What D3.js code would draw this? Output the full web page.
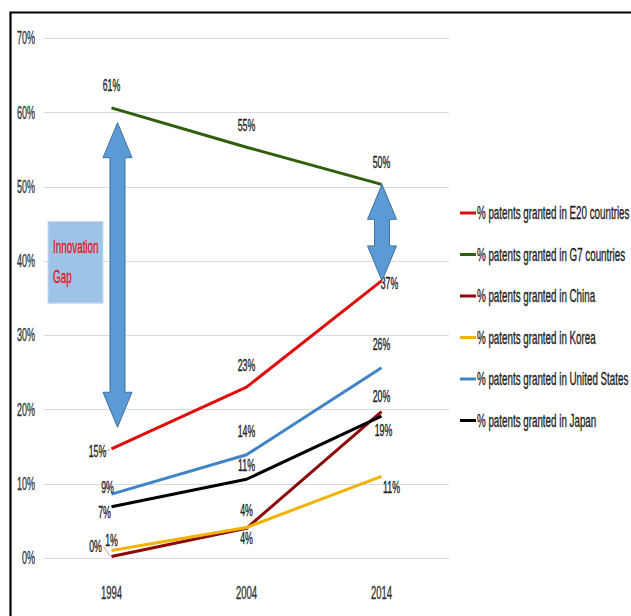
<!DOCTYPE html>
<html><head><meta charset="utf-8">
<script src="https://cdn.jsdelivr.net/npm/d3@7"></script>
<style>body{margin:0;background:#fff;overflow:hidden}</style>
</head><body>
<svg id="c" width="631" height="616"></svg>
<script>
// ---- data ----
const years = ["1994", "2004", "2014"];
const seriesNames = [
  "% patents granted in E20 countries",
  "% patents granted in G7 countries",
  "% patents granted in China",
  "% patents granted in Korea",
  "% patents granted in United States",
  "% patents granted in Japan"
];
const e20 = [14.7, 23.0, 37.3];
const g7 = [60.6, 55.3, 50.3];
const china = [0.2, 4.0, 19.7];
const korea = [1.0, 4.1, 11.0];
const us = [8.6, 13.9, 25.6];
const japan = [6.9, 10.6, 19.1];
const yTicks = [0, 10, 20, 30, 40, 50, 60, 70];
const gapArrows = [
  { year: "1994", top: 58.6, bottom: 17.6 },
  { year: "2014", top: 50.3, bottom: 37.3 }
];
const gapBox = { top: 45.3, bottom: 34.3, lines: ["Innovation", "Gap"] };

// ---- styling / layout ----
const colors = ["#e00b0b", "#2f5f0a", "#8b0a0a", "#f2b200", "#3f84c6", "#000000"];
const values = [e20, g7, china, korea, us, japan];
// label offsets in px (dx, dy) from the point, per series per year
const labelOffsets = [
  [[-14, 3], [0, -22], [8, 3]],
  [[0, -22], [0, -22], [0, -22]],
  [[-16, -10], [0, 10], [0, -15]],
  [[0, -10], [0, -17], [10, 11]],
  [[-4, -7], [0, -23], [0, -23]],
  [[-7, 6], [0, -14], [2, 14]]
];
const leaders = { "0-0": true, "2-0": true };

const FONT = "'Liberation Sans',Arial,sans-serif";
const svg = d3.select("#c");
const W = 631, H = 616;
const plot = { left: 44, right: 449, top: 38, bottom: 558 };

const x = d3.scaleBand().domain(years).range([plot.left, plot.right]);
const xc = d => x(d) + x.bandwidth() / 2;
const y = d3.scaleLinear().domain([0, 70]).range([plot.bottom, plot.top]);

function txt(g, s, px, py, size, sx, color, anchor) {
  return g.append("text")
    .attr("transform", `translate(${px},${py}) scale(${sx},1)`)
    .attr("text-anchor", anchor || "middle")
    .attr("dominant-baseline", "central")
    .style("font-family", FONT)
    .style("font-size", size + "px")
    .attr("fill", color || "#262626")
    .attr("stroke", color || "#262626")
    .attr("stroke-width", 0.35)
    .text(s);
}

// border
svg.append("rect").attr("x", 0).attr("y", 0).attr("width", W).attr("height", H).attr("fill", "#fff");
svg.append("path").attr("d", `M10.5,${H} V12.5 H${W}`).attr("fill", "none")
  .attr("stroke", "#000").attr("stroke-width", 2.2);

// gridlines
svg.append("g").selectAll("line").data(yTicks).join("line")
  .attr("x1", plot.left).attr("x2", plot.right)
  .attr("y1", d => Math.round(y(d)) + 0.5).attr("y2", d => Math.round(y(d)) + 0.5)
  .attr("stroke", "#d9d9d9").attr("stroke-width", 1);

// y tick labels
const gy = svg.append("g");
yTicks.forEach(t => txt(gy, t + "%", 35, y(t), 18, 0.5, "#333", "end"));

// x labels
const gx = svg.append("g");
years.forEach(yr => txt(gx, yr, xc(yr), 593, 18, 0.53, "#333"));

// lines
const line = d3.line().x((d, i) => xc(years[i])).y(d => y(d));
const gl = svg.append("g");
values.forEach((vals, si) => {
  gl.append("path").datum(vals).attr("d", line).attr("fill", "none")
    .attr("stroke", colors[si]).attr("stroke-width", 3).attr("stroke-linejoin", "round");
});

// data labels
const gd = svg.append("g");
values.forEach((vals, si) => {
  vals.forEach((v, i) => {
    const px = xc(years[i]), py = y(v);
    const [dx, dy] = labelOffsets[si][i];
    if (leaders[si + "-" + i]) {
      gd.append("line").attr("x1", px + dx + 8).attr("y1", py + dy)
        .attr("x2", px - 1).attr("y2", py).attr("stroke", "#a6a6a6").attr("stroke-width", 1);
    }
    txt(gd, Math.round(v) + "%", px + dx, py + dy, 16, 0.55, "#222");
  });
});

// innovation gap box
const bx = plot.left + 4, bw = 55;
svg.append("rect").attr("x", bx).attr("y", y(gapBox.top)).attr("width", bw)
  .attr("height", y(gapBox.bottom) - y(gapBox.top))
  .attr("fill", "#9dc3e6").attr("stroke", "#c5dcf0").attr("stroke-width", 1);
gapBox.lines.forEach((s, i) => txt(svg, s, bx + 5, y(gapBox.top) + 25 + i * 30, 19, 0.52, "#e3141e", "start"));

// double arrows
const headW = 29, shaftW = 15, headL = 35;
gapArrows.forEach((a, i) => {
  const cx = xc(a.year) + (i === 0 ? 6 : 0.5);
  const t = y(a.top), b = y(a.bottom);
  const p = [
    [cx, t], [cx + headW / 2, t + headL], [cx + shaftW / 2, t + headL],
    [cx + shaftW / 2, b - headL], [cx + headW / 2, b - headL], [cx, b],
    [cx - headW / 2, b - headL], [cx - shaftW / 2, b - headL],
    [cx - shaftW / 2, t + headL], [cx - headW / 2, t + headL]
  ];
  svg.append("path").attr("d", "M" + p.map(q => q.join(",")).join("L") + "Z")
    .attr("fill", "#5b9bd5").attr("stroke", "#41719c").attr("stroke-width", 1);
});

// legend
const lg = svg.append("g");
seriesNames.forEach((n, i) => {
  const ly = 213 + i * 41.5;
  lg.append("line").attr("x1", 460).attr("x2", 476).attr("y1", ly).attr("y2", ly)
    .attr("stroke", colors[i]).attr("stroke-width", 3);
  txt(lg, n, 477, ly, 17.5, 0.56, "#222", "start");
});
</script>
</body></html>
